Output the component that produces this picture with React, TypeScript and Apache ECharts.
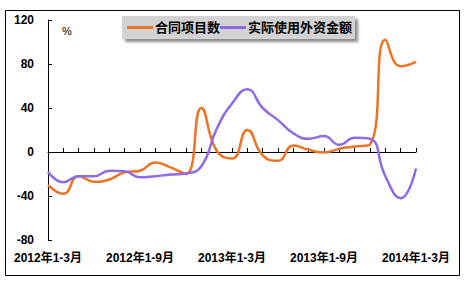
import React, { useEffect, useRef } from "react";
import * as echarts from "echarts";

const categories = [
  "2012年1-3月", "2012年1-4月", "2012年1-5月", "2012年1-6月", "2012年1-7月", "2012年1-8月",
  "2012年1-9月", "2012年1-10月", "2012年1-11月", "2012年1-12月", "2013年1月", "2013年1-2月",
  "2013年1-3月", "2013年1-4月", "2013年1-5月", "2013年1-6月", "2013年1-7月", "2013年1-8月",
  "2013年1-9月", "2013年1-10月", "2013年1-11月", "2013年1-12月", "2014年1月", "2014年1-2月",
  "2014年1-3月",
];

const contractProjects = [
  -30, -38, -22, -27, -25, -18.5, -17, -9.5, -14, -20, 40, 1, -6, 20, -3, -8, 6, 2, -0.5, 3, 5, 7, 102, 78, 82,
];

const actualFDI = [
  -18, -27.5, -22, -22, -17, -17.5, -23, -22, -20.5, -19.5, -13, 21, 44, 57, 40, 29, 17, 12, 14.5, 6.5, 13, 12, -22, -42, -15,
];

const yTicks = { min: -80, max: 120, interval: 40 };

const FONT = "'Liberation Sans', 'Noto Sans CJK SC', sans-serif";

export default function App() {
  const ref = useRef<HTMLDivElement>(null);
  useEffect(() => {
    if (!ref.current) return;
    const chart = echarts.init(ref.current, undefined, { renderer: "svg" });
    chart.setOption({
      animation: false,
      backgroundColor: "#ffffff",
      grid: { left: 48, right: 53, top: 20, bottom: 43 },
      legend: {
        left: 122,
        top: 16,
        padding: [5, 3, 5, 5],
        itemGap: 0,
        itemWidth: 26,
        itemHeight: 3,
        icon: "rect",
        backgroundColor: "#d3d3d3",
        shadowColor: "rgba(0,0,0,0.45)",
        shadowBlur: 3,
        shadowOffsetX: 3,
        shadowOffsetY: 3,
        textStyle: { fontFamily: FONT, fontWeight: "bold", fontSize: 13, color: "#000", padding: [0, 0, 0, -3] },
        data: ["合同项目数", "实际使用外资金额"],
      },
      xAxis: {
        type: "category",
        data: categories,
        boundaryGap: false,
        axisLine: { lineStyle: { color: "#000", width: 1 } },
        axisTick: { inside: true, length: 4, interval: 0, lineStyle: { color: "#000" } },
        axisLabel: {
          interval: 5,
          margin: 12,
          fontFamily: FONT,
          fontWeight: "bold",
          fontSize: 12,
          color: "#000",
          showMaxLabel: true,
        },
        splitLine: { show: false },
      },
      yAxis: {
        type: "value",
        min: yTicks.min,
        max: yTicks.max,
        interval: yTicks.interval,
        axisLine: { show: true, lineStyle: { color: "#000", width: 1 } },
        axisTick: { show: true, inside: true, length: 4, lineStyle: { color: "#000" } },
        axisLabel: { margin: 14, fontFamily: FONT, fontWeight: "bold", fontSize: 12, color: "#000" },
        splitLine: { show: false },
      },
      graphic: [
        {
          type: "rect",
          shape: { x: 5.5, y: 10.5, width: 454, height: 265 },
          style: { fill: "none", stroke: "#000", lineWidth: 1 },
          silent: true,
          z: 100,
        },
        {
          type: "text",
          x: 62,
          y: 25,
          style: { text: "%", fontFamily: FONT, fontSize: 11, fill: "#000" },
        },
      ],
      series: [
        {
          name: "合同项目数",
          type: "line",
          data: contractProjects,
          smooth: 0.5,
          showSymbol: false,
          symbol: "none",
          lineStyle: { color: "#EC7424", width: 2.5 },
          itemStyle: { color: "#EC7424" },
        },
        {
          name: "实际使用外资金额",
          type: "line",
          data: actualFDI,
          smooth: 0.5,
          showSymbol: false,
          symbol: "none",
          lineStyle: { color: "#8E6CE6", width: 2.5 },
          itemStyle: { color: "#8E6CE6" },
        },
      ],
    });
    return () => chart.dispose();
  }, []);
  return (
    <div
      ref={ref}
      style={{ position: "absolute", left: 0, top: 0, width: 469, height: 283 }}
    />
  );
}
